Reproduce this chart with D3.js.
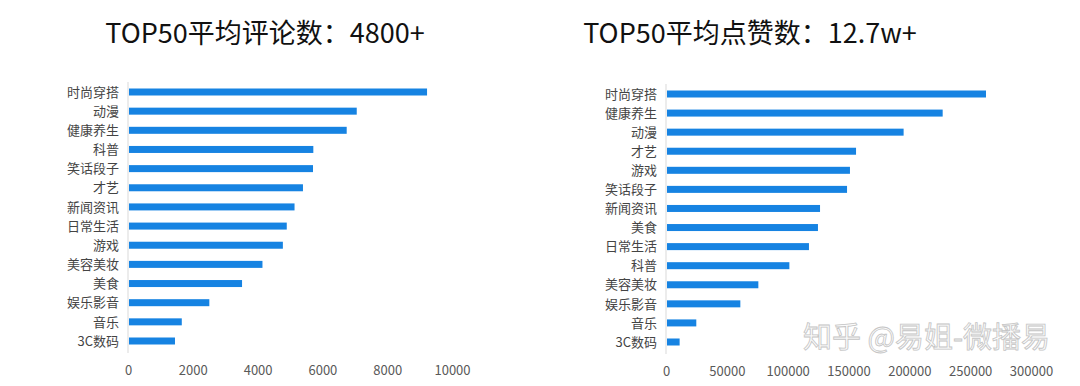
<!DOCTYPE html>
<html>
<head>
<meta charset="utf-8">
<script src="https://cdn.jsdelivr.net/npm/d3@7"></script>
<style>
  body { margin: 0; background: #fff; }
  text { font-family: "Noto Sans CJK SC", "Noto Sans", sans-serif; }
</style>
</head>
<body>
<div id="chart"></div>
<script>
// data of the two bar charts
const commentCats = ["时尚穿搭", "动漫", "健康养生", "科普", "笑话段子", "才艺", "新闻资讯",
  "日常生活", "游戏", "美容美妆", "美食", "娱乐影音", "音乐", "3C数码"];
const commentVals = [9230, 7060, 6750, 5720, 5710, 5400, 5140, 4900, 4780, 4150, 3520, 2510, 1660, 1450];
const commentTicks = [0, 2000, 4000, 6000, 8000, 10000];
const commentTitle = "TOP50平均评论数：4800+";

const likeCats = ["时尚穿搭", "健康养生", "动漫", "才艺", "游戏", "笑话段子", "新闻资讯",
  "美食", "日常生活", "科普", "美容美妆", "娱乐影音", "音乐", "3C数码"];
const likeVals = [263000, 227400, 195300, 156200, 151200, 148800, 126600, 124900, 117500, 101400, 75900, 61100, 24900, 11200];
const likeTicks = [0, 50000, 100000, 150000, 200000, 250000, 300000];
const likeTitle = "TOP50平均点赞数：12.7w+";

const W = 1080, H = 386;
const barColor = "#1683e2";

var svg = d3.select("#chart")
    .append("svg")
    .attr("width", W)
    .attr("height", H);

// draw one horizontal bar chart
function drawBars(cats, vals, ticks, title, opt) {
    var g = svg.append("g");

    var x = d3.scaleLinear()
        .domain([0, ticks[ticks.length - 1]])
        .range([opt.left, opt.right]);

    var y = d3.scalePoint()
        .domain(cats)
        .range([opt.top, opt.bottom]);

    // title
    g.append("text")
        .attr("x", opt.titleX)
        .attr("y", 43)
        .attr("text-anchor", "middle")
        .style("font-size", "27px")
        .style("fill", "#111")
        .text(title);

    // vertical axis line
    g.append("line")
        .attr("x1", opt.left).attr("x2", opt.left)
        .attr("y1", opt.top - 10).attr("y2", opt.bottom + 12)
        .style("stroke", "#d9d9d9")
        .style("stroke-width", 1);

    // bars
    g.selectAll("rect.bar")
        .data(vals)
        .enter().append("rect")
        .attr("class", "bar")
        .attr("x", x(0) + 1)
        .attr("y", (d, i) => y(cats[i]) - 3.5)
        .attr("width", d => x(d) - x(0) - 1)
        .attr("height", 7)
        .style("fill", barColor);

    // category labels
    var yAxis = g.append("g")
        .attr("transform", "translate(" + (opt.left - 9) + ",0)")
        .call(d3.axisLeft(y).tickSize(0).tickPadding(0));
    yAxis.select(".domain").remove();
    yAxis.selectAll("text")
        .style("font-family", "'Noto Sans CJK SC', sans-serif")
        .style("font-size", "13px")
        .style("fill", "#444");

    // value axis labels
    var xAxis = g.append("g")
        .attr("transform", "translate(0," + (opt.bottom + 22) + ")")
        .call(d3.axisBottom(x).tickValues(ticks).tickSize(0).tickFormat(d3.format("d")));
    xAxis.select(".domain").remove();
    xAxis.selectAll("text")
        .style("font-family", "'Noto Sans CJK SC', sans-serif")
        .style("font-size", "13px")
        .style("fill", "#595959");
}

drawBars(commentCats, commentVals, commentTicks, commentTitle,
    {left: 128, right: 452, top: 92, bottom: 341, titleX: 265});
drawBars(likeCats, likeVals, likeTicks, likeTitle,
    {left: 666, right: 1031, top: 94, bottom: 342, titleX: 750});

// zhihu watermark
svg.append("text")
    .attr("x", 1050)
    .attr("y", 348)
    .attr("text-anchor", "end")
    .style("font-size", "29px")
    .style("fill", "#fbfbfb")
    .style("stroke", "#c4c4c4")
    .style("stroke-width", 0.8)
    .text("知乎 @易姐-微播易");
</script>
</body>
</html>
